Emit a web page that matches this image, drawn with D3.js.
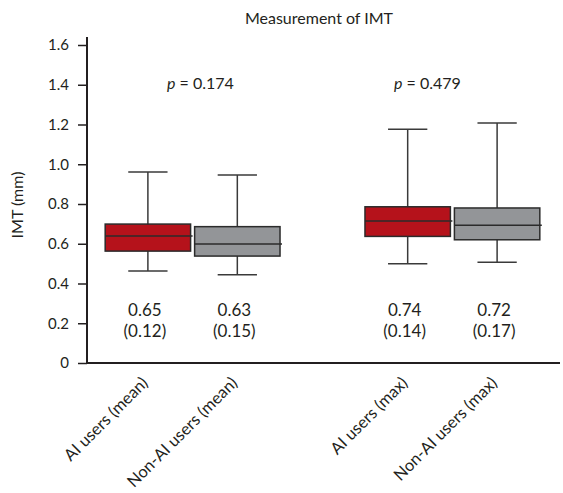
<!DOCTYPE html>
<html>
<head>
<meta charset="utf-8">
<script src="https://cdn.jsdelivr.net/npm/d3@7"></script>
<style>
  body { margin: 0; background: #fff; }
  text { font-family: Lato, "Open Sans", sans-serif; fill: #231f20; }
</style>
</head>
<body>
<div id="chart"></div>
<script>
// groups on the x axis and the two series inside each group
var groups = ['mean', 'max'];
var series = ['AI users', 'Non-AI users'];
var categories = ['AI users (mean)', 'Non-AI users (mean)', 'AI users (max)', 'Non-AI users (max)'];

// box plot values (mm), same order as categories
var whiskerLow  = [0.463, 0.444, 0.500, 0.507];
var q1          = [0.563, 0.538, 0.637, 0.620];
var median      = [0.639, 0.599, 0.714, 0.693];
var q3          = [0.699, 0.686, 0.786, 0.780];
var whiskerHigh = [0.961, 0.946, 1.176, 1.207];

// mean (sd) printed under each box
var means = [0.65, 0.63, 0.74, 0.72];
var sds   = [0.12, 0.15, 0.14, 0.17];

// p values per group
var pValues = ['0.174', '0.479'];

var yTicks = [0, 0.2, 0.4, 0.6, 0.8, 1.0, 1.2, 1.4, 1.6];

var colors = { 'AI users': '#b5121b', 'Non-AI users': '#939598' };

function main(){
    var W = 563, H = 493;
    var margin = { top: 45, right: 5, bottom: 130, left: 87 };

    var svg = d3.select('#chart').append('svg')
                .attr('width', W)
                .attr('height', H);

    var y = d3.scaleLinear()
              .domain([0, 1.6])
              .range([H - margin.bottom, margin.top]);

    var x0 = d3.scaleBand()
               .domain(groups)
               .range([margin.left, W - margin.right])
               .paddingInner(0.327)
               .paddingOuter(0.07);

    var x1 = d3.scaleBand()
               .domain(series)
               .range([0, x0.bandwidth()])
               .paddingInner(0.045);

    var data = categories.map(function(c, i){
        return {
            name: c,
            group: groups[Math.floor(i / 2)],
            series: series[i % 2],
            lo: whiskerLow[i], q1: q1[i], med: median[i], q3: q3[i], hi: whiskerHigh[i],
            mean: means[i], sd: sds[i]
        };
    });

    // title
    svg.append('text')
       .attr('x', 319)
       .attr('y', 24)
       .attr('text-anchor', 'middle')
       .style('font-size', '16px')
       .text('Measurement of IMT');

    // y axis
    var yAxis = svg.append('g')
       .attr('transform', 'translate(' + margin.left + ',0)')
       .call(d3.axisLeft(y)
               .tickValues(yTicks)
               .tickSize(9)
               .tickPadding(9)
               .tickFormat(function(d){ return d === 0 ? '0' : d3.format('.1f')(d); }));
    yAxis.select('.domain').remove();
    yAxis.selectAll('.tick line').attr('stroke', '#231f20').attr('stroke-width', 1.5);
    yAxis.selectAll('.tick text').style('font-size', '15px').attr('font-family', null);

    // axis lines
    svg.append('line')
       .attr('x1', margin.left).attr('x2', margin.left)
       .attr('y1', y(0) + 1).attr('y2', y(1.64))
       .attr('stroke', '#231f20').attr('stroke-width', 2);
    svg.append('line')
       .attr('x1', margin.left).attr('x2', W - 3)
       .attr('y1', y(0)).attr('y2', y(0))
       .attr('stroke', '#231f20').attr('stroke-width', 2);

    // y label
    svg.append('text')
       .attr('transform', 'translate(23,' + 205 + ') rotate(-90)')
       .attr('text-anchor', 'middle')
       .style('font-size', '16px')
       .text('IMT (mm)');

    var bw = x1.bandwidth();
    var cap = bw * 0.46;

    var box = svg.selectAll('.box')
       .data(data)
     .enter().append('g')
       .attr('class', 'box')
       .attr('transform', function(d){ return 'translate(' + (x0(d.group) + x1(d.series)) + ',0)'; });

    // whiskers
    box.append('line')
       .attr('x1', bw / 2).attr('x2', bw / 2)
       .attr('y1', function(d){ return y(d.hi); })
       .attr('y2', function(d){ return y(d.lo); })
       .attr('stroke', '#3a3a3a').attr('stroke-width', 1.5);
    box.selectAll('.cap')
       .data(function(d){ return [d.hi, d.lo]; })
     .enter().append('line')
       .attr('class', 'cap')
       .attr('x1', bw / 2 - cap / 2).attr('x2', bw / 2 + cap / 2)
       .attr('y1', function(v){ return y(v); })
       .attr('y2', function(v){ return y(v); })
       .attr('stroke', '#3a3a3a').attr('stroke-width', 1.5);

    // boxes
    box.append('rect')
       .attr('x', 0)
       .attr('width', bw)
       .attr('y', function(d){ return y(d.q3); })
       .attr('height', function(d){ return y(d.q1) - y(d.q3); })
       .attr('fill', function(d){ return colors[d.series]; })
       .attr('stroke', '#2b2b2b').attr('stroke-width', 1.5);

    // median, sticks out a little on the right
    box.append('line')
       .attr('x1', 0).attr('x2', bw + 2)
       .attr('y1', function(d){ return y(d.med); })
       .attr('y2', function(d){ return y(d.med); })
       .attr('stroke', '#2b2b2b').attr('stroke-width', 1.5);

    // mean (sd)
    box.append('text')
       .attr('x', bw / 2 - 3)
       .attr('y', y(0) - 47)
       .attr('text-anchor', 'middle')
       .style('font-size', '17px')
       .text(function(d){ return d3.format('.2f')(d.mean); });
    box.append('text')
       .attr('x', bw / 2 - 3)
       .attr('y', y(0) - 26)
       .attr('text-anchor', 'middle')
       .style('font-size', '17px')
       .text(function(d){ return '(' + d3.format('.2f')(d.sd) + ')'; });

    // rotated category labels
    box.append('text')
       .attr('text-anchor', 'end')
       .attr('transform', 'translate(' + (bw / 2 + 1) + ',' + (y(0) + 21) + ') rotate(-45)')
       .style('font-size', '16.5px')
       .text(function(d){ return d.name; });

    // p values
    var pX = [167, 394];
    groups.forEach(function(g, i){
        var t = svg.append('text')
           .attr('x', pX[i])
           .attr('y', y(1.4) + 4)
           .style('font-size', '16px');
        t.append('tspan').style('font-style', 'italic').text('p');
        t.append('tspan').text(' = ' + pValues[i]);
    });
}

main();
</script>
</body>
</html>
